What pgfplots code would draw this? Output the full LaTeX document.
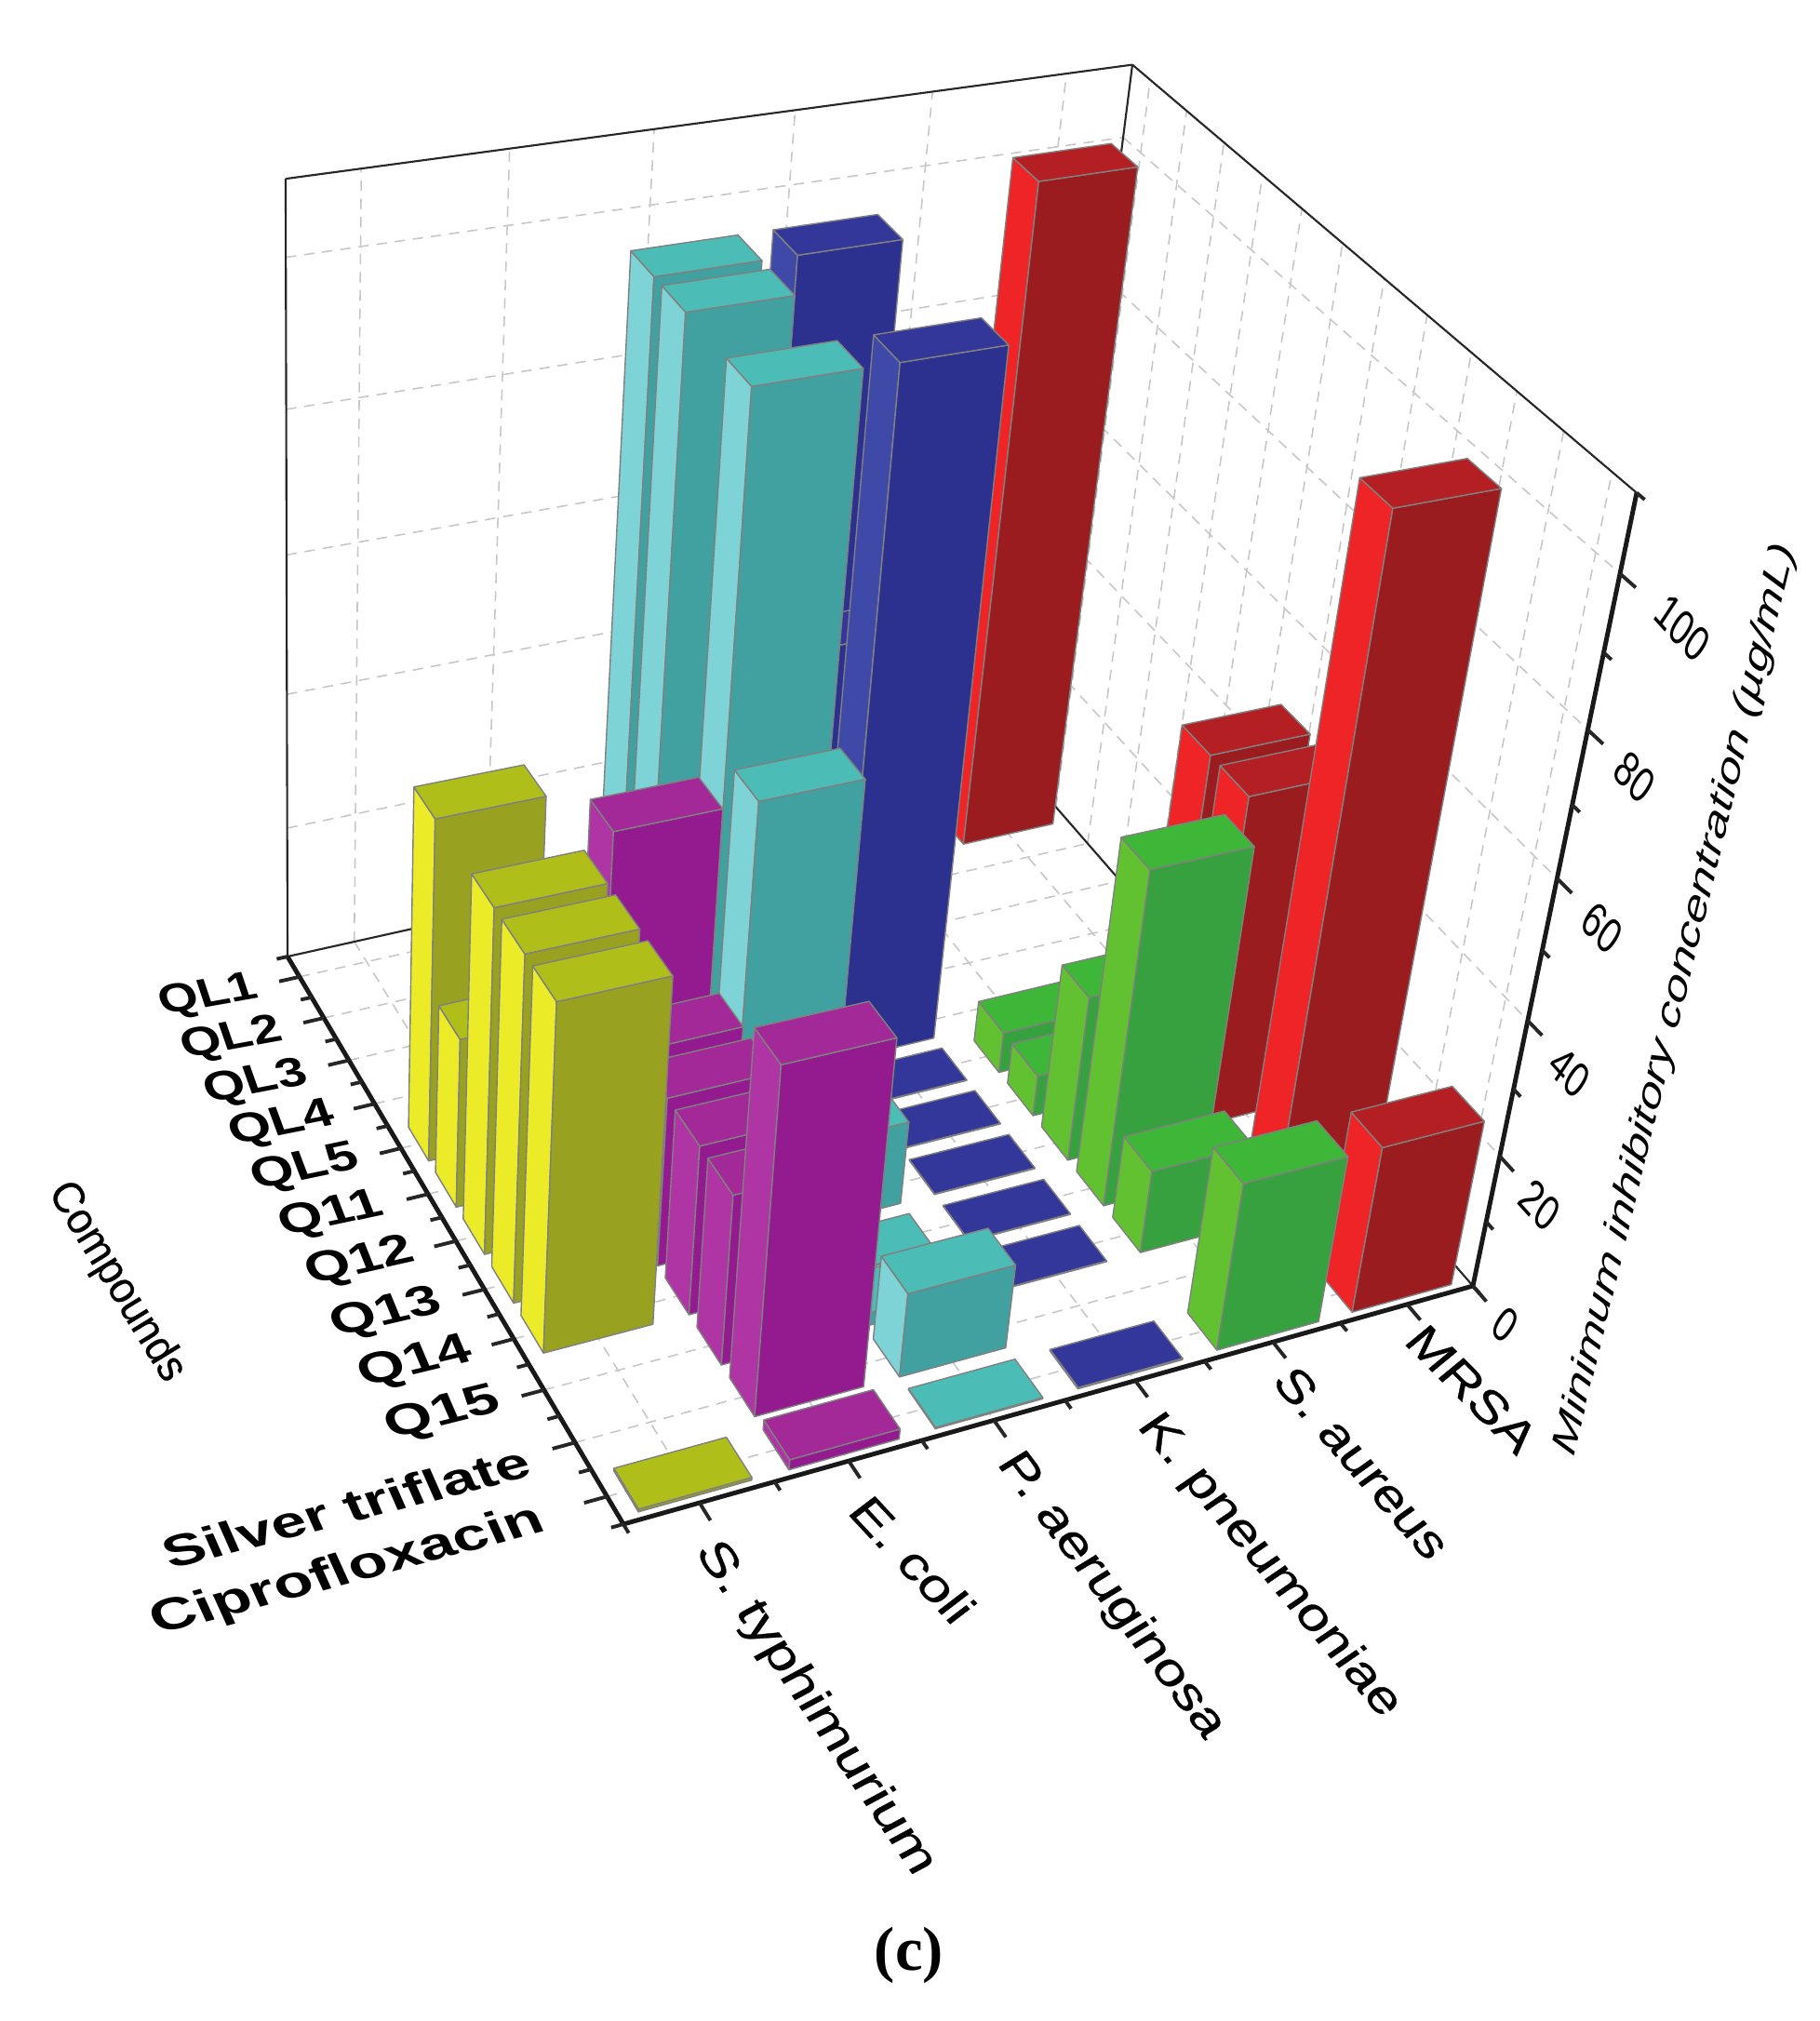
\documentclass[border=0pt]{standalone}
\usepackage{pgfplots}
\pgfplotsset{compat=1.18}
\usepackage{pgfplotstable}
\usepackage{fontspec}
\setmainfont{Liberation Sans}
\newfontfamily\capfont{Liberation Serif}
\newfontfamily\medfont[FakeBold=0.5]{Liberation Sans}
\definecolor{yS}{HTML}{EBEB28}\definecolor{yF}{HTML}{98A120}\definecolor{yT}{HTML}{AFBE19}
\definecolor{pS}{HTML}{B035A4}\definecolor{pF}{HTML}{931B8F}\definecolor{pT}{HTML}{A22997}
\definecolor{cS}{HTML}{7ED3D6}\definecolor{cF}{HTML}{41A0A0}\definecolor{cT}{HTML}{4BBDB6}
\definecolor{bS}{HTML}{3F4AA8}\definecolor{bF}{HTML}{2C3190}\definecolor{bT}{HTML}{333799}
\definecolor{gS}{HTML}{62C131}\definecolor{gF}{HTML}{38A13F}\definecolor{gT}{HTML}{3EB738}
\definecolor{rS}{HTML}{EE2427}\definecolor{rF}{HTML}{9B1C1F}\definecolor{rT}{HTML}{B41F24}
\pgfplotstableread{
sx sy sz
-1 -1 0
-1 1 0
-1 1 1
-1 -1 1
-1 -1 0
}\faceS
\pgfplotstableread{
sx sy sz
-1 1 0
1 1 0
1 1 1
-1 1 1
-1 1 0
}\faceF
\pgfplotstableread{
sx sy sz
-1 -1 1
1 -1 1
1 1 1
-1 1 1
-1 -1 1
}\faceT
\pgfplotstableread{
s t
0 0
1 1
}\segtab
\def\hw{0.375}
% one face of a bar: colour, face table, column, row, value
\newcommand{\face}[5]{\addplot[fill=#1,draw=black!50,line width=0.4pt,line join=round] table[
  x expr={prjx(#3+0.5+\hw*\thisrow{sx},#4+0.5+\hw*\thisrow{sy},#5*\thisrow{sz})},
  y expr={prjy(#3+0.5+\hw*\thisrow{sx},#4+0.5+\hw*\thisrow{sy},#5*\thisrow{sz})}]{#2};}
% \onebar{colour prefix}{column}{row}{value}
\newcommand{\onebar}[4]{\face{#1S}{\faceS}{#2}{#3}{#4}\face{#1F}{\faceF}{#2}{#3}{#4}\face{#1T}{\faceT}{#2}{#3}{#4}}
\newcommand{\seg}[7]{\addplot[#7] table[
  x expr={prjx(#1+((#4)-(#1))*\thisrow{s},#2+((#5)-(#2))*\thisrow{s},#3+((#6)-(#3))*\thisrow{s})},
  y expr={prjy(#1+((#4)-(#1))*\thisrow{s},#2+((#5)-(#2))*\thisrow{s},#3+((#6)-(#3))*\thisrow{s})}]{\segtab};}
\newcommand{\lab}[5]{\node[inner sep=0pt,anchor=center,#3] at (axis cs:#1,#2) {#4#5};}
\tikzset{gridl/.style={color=black!22,line width=0.45pt,dash pattern=on 3.2pt off 2.4pt},
 wall/.style={color=black!85,line width=0.6pt},
 axl/.style={color=black!90,line width=1.4pt},
 tk/.style={color=black!85,line width=1.1pt}}
\begin{document}
\begin{tikzpicture}
\begin{axis}[at={(0,0)},anchor=south west,scale only axis,width=19.56cm,height=21.72cm,
  xmin=0,xmax=1956,ymin=0,ymax=2172,y dir=reverse,hide axis,
  declare function={
    prjw(\X,\Y,\Z)=1+0.01175*\X-0.012485*\Y-0.001*\Z;
    prjx(\X,\Y,\Z)=(147.97*\X+21.717*\Y+(-0.32545+0.01197*\X-0.00265*\Y)*\Z+309)/prjw(\X,\Y,\Z);
    prjy(\X,\Y,\Z)=(-20.033*\X+30.383*\Y+(-7.791+0.02424*\X-0.00152*\Y)*\Z+1028)/prjw(\X,\Y,\Z);
  }]
\path (rel axis cs:0,0) rectangle (rel axis cs:1,1);
% grids
\pgfplotsinvokeforeach{20,40,60,80,100}{\seg{0}{0}{#1}{6}{0}{#1}{gridl}\seg{6}{0}{#1}{6}{12}{#1}{gridl}}
\pgfplotsinvokeforeach{0.5,1.5,2.5,3.5,4.5,5.5}{\seg{#1}{0}{0}{#1}{0}{110}{gridl}\seg{#1}{0}{0}{#1}{12}{0}{gridl}}
\pgfplotsinvokeforeach{0.5,1.5,2.5,3.5,4.5,5.5,6.5,7.5,8.5,9.5,10.5,11.5}{\seg{6}{#1}{0}{6}{#1}{110}{gridl}\seg{0}{#1}{0}{6}{#1}{0}{gridl}}
% walls
\seg{0}{0}{0}{0}{0}{110}{wall}\seg{0}{0}{110}{6}{0}{110}{wall}\seg{6}{0}{0}{6}{0}{110}{wall}
\seg{6}{0}{110}{6}{12}{110}{wall}\seg{0}{0}{0}{6}{0}{0}{wall}\seg{6}{0}{0}{6}{12}{0}{wall}
% axes
\seg{0}{0}{0}{0}{12}{0}{axl}\seg{0}{12}{0}{6}{12}{0}{axl}\seg{6}{12}{0}{6}{12}{110}{axl}
\pgfplotsinvokeforeach{0.5,1.5,2.5,3.5,4.5,5.5,6.5,7.5,8.5,9.5,10.5,11.5}{\seg{0}{#1}{0}{-0.15}{#1}{0}{tk}}
\pgfplotsinvokeforeach{0,1,2,3,4,5,6,7,8,9,10,11,12}{\seg{0}{#1}{0}{-0.08}{#1}{0}{tk}}
\pgfplotsinvokeforeach{0.5,1.5,2.5,3.5,4.5,5.5}{\seg{#1}{12}{0}{#1}{12.32}{0}{tk}}
\pgfplotsinvokeforeach{0,1,2,3,4,5,6}{\seg{#1}{12}{0}{#1}{12.16}{0}{tk}}
\pgfplotsinvokeforeach{0,20,40,60,80,100}{\seg{6}{12}{#1}{6}{12.32}{#1}{tk}}
\pgfplotsinvokeforeach{10,30,50,70,90,110}{\seg{6}{12}{#1}{6}{12.16}{#1}{tk}}
% bars: MRSA
\onebar{r}{5}{0}{100}\onebar{r}{5}{6}{50}\onebar{r}{5}{7}{50}\onebar{r}{5}{9}{100}\onebar{r}{5}{11}{25}
% S. aureus
\onebar{g}{4}{5}{6.25}\onebar{g}{4}{6}{6.25}\onebar{g}{4}{7}{25}\onebar{g}{4}{8}{50}\onebar{g}{4}{9}{12.5}\onebar{g}{4}{11}{25}
% K. pneumoniae
\onebar{b}{3}{1}{100}\onebar{b}{3}{2}{50}\onebar{b}{3}{4}{100}\onebar{b}{3}{5}{0.1}\onebar{b}{3}{6}{0.1}\onebar{b}{3}{7}{0.1}\onebar{b}{3}{8}{0.1}\onebar{b}{3}{9}{0.1}\onebar{b}{3}{11}{0.2}
% P. aeruginosa
\onebar{c}{2}{1}{100}\onebar{c}{2}{2}{100}\onebar{c}{2}{4}{100}\onebar{c}{2}{5}{50}\onebar{c}{2}{7}{12.5}\onebar{c}{2}{8}{0.2}\onebar{c}{2}{9}{2}\onebar{c}{2}{10}{12.5}\onebar{c}{2}{11}{0.2}
% E. coli
\onebar{p}{1}{5}{50}\onebar{p}{1}{6}{25}\onebar{p}{1}{7}{25}\onebar{p}{1}{8}{25}\onebar{p}{1}{9}{25}\onebar{p}{1}{10}{50}\onebar{p}{1}{11}{1.5}
% S. typhimurium
\onebar{y}{0}{4}{50}\onebar{y}{0}{5}{25}\onebar{y}{0}{6}{50}\onebar{y}{0}{7}{50}\onebar{y}{0}{8}{50}\onebar{y}{0}{11}{0.4}
% compound labels
\def\yf{\fontsize{10}{12}\selectfont\bfseries}
\lab{224}{1071}{rotate=10,xscale=1.55,yscale=1.25,xslant=-0.12}{\yf}{QL1}
\lab{249}{1117}{rotate=10.4,xscale=1.59,yscale=1.25,xslant=-0.12}{\yf}{QL2}
\lab{275}{1164}{rotate=10.9,xscale=1.62,yscale=1.27,xslant=-0.12}{\yf}{QL3}
\lab{303}{1209}{rotate=11.3,xscale=1.66,yscale=1.27,xslant=-0.12}{\yf}{QL4}
\lab{328}{1256}{rotate=11.8,xscale=1.69,yscale=1.3,xslant=-0.12}{\yf}{QL5}
\lab{356}{1306}{rotate=12.2,xscale=1.73,yscale=1.3,xslant=-0.12}{\yf}{Q11}
\lab{387}{1357}{rotate=12.7,xscale=1.77,yscale=1.32,xslant=-0.12}{\yf}{Q12}
\lab{415}{1412}{rotate=13.1,xscale=1.80,yscale=1.32,xslant=-0.12}{\yf}{Q13}
\lab{446}{1465}{rotate=13.6,xscale=1.84,yscale=1.35,xslant=-0.12}{\yf}{Q14}
\lab{476}{1520}{rotate=14,xscale=1.87,yscale=1.35,xslant=-0.12}{\yf}{Q15}
\lab{372}{1620}{rotate=14.5,xscale=1.9,yscale=1.38,xslant=-0.12}{\yf}{Silver triflate}
\lab{374}{1689}{rotate=15,xscale=1.93,yscale=1.4,xslant=-0.12}{\yf}{Ciprofloxacin}
% organism labels
\def\xf{\fontsize{9.5}{12}\selectfont\medfont}
\lab{876}{1836}{rotate=-56,xscale=1.9,yscale=1.5,xslant=0.08}{\xf}{S. typhimurium}
\lab{981}{1676}{rotate=-47,xscale=1.85,yscale=1.5,xslant=0.08}{\xf}{E. coli}
\lab{1194}{1715}{rotate=-53,xscale=1.85,yscale=1.5,xslant=0.08}{\xf}{P. aeruginosa}
\lab{1364}{1683}{rotate=-50,xscale=1.83,yscale=1.5,xslant=0.08}{\xf}{K. pneumoniae}
\lab{1464}{1572}{rotate=-49,xscale=1.8,yscale=1.5,xslant=0.08}{\xf}{S. aureus}
\lab{1582}{1493}{rotate=-45,xscale=1.8,yscale=1.5,xslant=0.08}{\xf}{MRSA}
% value labels
\def\zf{\fontsize{9.5}{12}\selectfont}
\lab{1618}{1424}{rotate=-48,xscale=1.25,yscale=1.45,xslant=-0.3}{\zf}{0}
\lab{1655}{1295}{rotate=-48,xscale=1.25,yscale=1.45,xslant=-0.3}{\zf}{20}
\lab{1687}{1152}{rotate=-48,xscale=1.25,yscale=1.45,xslant=-0.3}{\zf}{40}
\lab{1722}{997}{rotate=-48,xscale=1.25,yscale=1.45,xslant=-0.3}{\zf}{60}
\lab{1757}{835}{rotate=-48,xscale=1.25,yscale=1.45,xslant=-0.3}{\zf}{80}
\lab{1808}{675}{rotate=-48,xscale=1.25,yscale=1.45,xslant=-0.3}{\zf}{100}
% titles
\lab{1801}{1074}{rotate=76.3,xscale=1.64,yscale=1.15,xslant=0.1}{\fontsize{9.5}{12}\selectfont\itshape}{Minimum inhibitory concentration (µg/mL)}
\lab{125}{1378}{rotate=-58.5,xscale=1.42,yscale=1.5}{\fontsize{9}{11}\selectfont\medfont}{Compounds}
\lab{977}{2101}{}{\fontsize{19}{22}\selectfont\capfont\bfseries}{(c)}
\end{axis}
\end{tikzpicture}
\end{document}
